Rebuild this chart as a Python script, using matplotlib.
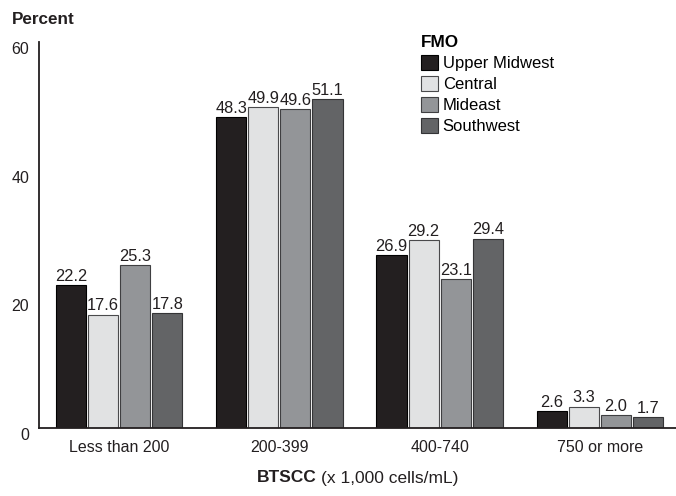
import numpy as np
import matplotlib
matplotlib.use("Agg")
import matplotlib.pyplot as plt

plt.rcParams["font.family"] = ["Liberation Sans", "DejaVu Sans"]

# BTSCC 分组与各FMO的百分比
categories = ["Less than 200", "200-399", "400-740", "750 or more"]
regions = ["Upper Midwest", "Central", "Mideast", "Southwest"]
upper_midwest = [22.2, 48.3, 26.9, 2.6]
central = [17.6, 49.9, 29.2, 3.3]
mideast = [25.3, 49.6, 23.1, 2.0]
southwest = [17.8, 51.1, 29.4, 1.7]
yticks = [0, 20, 40, 60]

series = [upper_midwest, central, mideast, southwest]
face_colors = ["#231f20", "#e1e2e3", "#939598", "#636466"]
edge_colors = ["#000000", "#4a4a4c", "#3f3f41", "#343436"]

fig = plt.figure(figsize=(6.76, 4.96), dpi=100)
ax = fig.add_axes([39 / 676, 1 - 428 / 496, 1 - 39 / 676, 386 / 496])

x = np.arange(len(categories))
pitch = 0.2
width = 0.188
for i, (vals, name) in enumerate(zip(series, regions)):
    bars = ax.bar(x + (i - 1.5) * pitch, vals, width,
                  color=face_colors[i], edgecolor=edge_colors[i],
                  linewidth=0.8, label=name)
    ax.bar_label(bars, labels=[f"{v:.1f}" for v in vals], padding=1,
                 fontsize=11.8, color="#231f20")

ax.set_xlim(-0.5, 3.475)
ax.set_ylim(0, 60)
ax.set_yticks(yticks)
ax.set_xticks(x)
ax.set_xticklabels(categories)
ax.tick_params(axis="both", length=0, labelsize=11.5, colors="#231f20")
ax.tick_params(axis="x", pad=9)
ax.tick_params(axis="y", pad=7)
for lab in ax.get_yticklabels():
    lab.set_verticalalignment("top")

for side in ["top", "right"]:
    ax.spines[side].set_visible(False)
for side in ["left", "bottom"]:
    ax.spines[side].set_linewidth(1.3)
    ax.spines[side].set_color("#231f20")

fig.text(12 / 676, 1 - 20 / 496, "Percent", fontsize=12.3, fontweight="bold",
         va="center", ha="left", color="#231f20")

# x轴标题：粗体 + 常规体
fig.text(317 / 676, 1 - 478 / 496, "BTSCC", fontsize=12.5, fontweight="bold",
         ha="right", va="center", color="#231f20")
fig.text(321 / 676, 1 - 478 / 496, "(x 1,000 cells/mL)", fontsize=12.5,
         ha="left", va="center", color="#231f20")

leg = ax.legend(loc="upper left", bbox_to_anchor=(421 / 676, 1 - 35 / 496),
                bbox_transform=fig.transFigure, frameon=False, fontsize=12,
                title="FMO", alignment="left", handlelength=1.0,
                handleheight=1.0, handletextpad=0.3, labelspacing=0.29,
                borderaxespad=0, borderpad=0)
leg.get_title().set_fontweight("bold")
leg.get_title().set_fontsize(12.3)

fig.savefig("out.png", dpi=100)
